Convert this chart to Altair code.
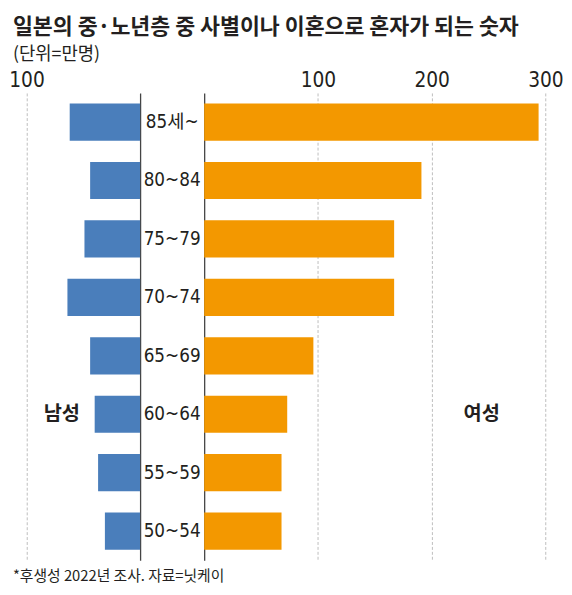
import altair as alt
import pandas as pd

# 단위: 만명
ages = ["85세~", "80~84", "75~79", "70~74", "65~69", "60~64", "55~59", "50~54"]
male = [62, 44, 49, 64, 44, 40, 37, 31]
female = [294, 191, 167, 167, 96, 73, 68, 68]

df = pd.DataFrame({"age": ages, "male": male, "female": female})

NUM_FONT = "Liberation Sans Narrow, DejaVu Sans Condensed, Noto Sans CJK KR, sans-serif"
KR_FONT = "Noto Sans CJK KR"
INK = "#231f20"
H = 474

band = alt.Scale(paddingInner=0.363, paddingOuter=0.18)


def x_axis(values):
    return alt.Axis(
        orient="top", values=values, title=None, ticks=False, domain=False,
        grid=True, gridDash=[3, 2], gridColor="#bdbdbd", gridWidth=1,
        labelFont=NUM_FONT, labelFontSize=21, labelColor=INK, labelPadding=3,
    )


def y_axis(orient):
    return alt.Axis(
        orient=orient, title=None, labels=False, ticks=False, grid=False,
        domain=True, domainColor="#444444", domainWidth=1.3,
        minExtent=0, maxExtent=0,
    )


left_bars = alt.Chart(df).mark_bar(color="#4a7ebb").encode(
    x=alt.X("male:Q", scale=alt.Scale(domain=[0, 112], reverse=True, nice=False), axis=x_axis([100])),
    y=alt.Y("age:N", sort=ages, scale=band, axis=y_axis("right")),
)

male_label = alt.Chart(pd.DataFrame({"t": ["남성"], "age": ["60~64"]})).mark_text(
    font=KR_FONT, fontSize=20, fontWeight="bold", color=INK
).encode(x=alt.datum(69), y=alt.Y("age:N", sort=ages), text="t:N")

footnote = alt.Chart(pd.DataFrame({"t": ["*후생성 2022년 조사. 자료=닛케이"]})).mark_text(
    font=KR_FONT, fontSize=15, color=INK, align="left", baseline="middle"
).encode(x=alt.value(0), y=alt.value(490), text="t:N")

left = alt.layer(left_bars, male_label, footnote).properties(width=129, height=H)

mid = alt.Chart(df).mark_text(font=NUM_FONT, fontSize=19, color=INK).encode(
    x=alt.value(32.5),
    y=alt.Y("age:N", sort=ages, scale=band, axis=None),
    text="age:N",
).properties(width=65, height=H)

right_bars = alt.Chart(df).mark_bar(color="#f39800").encode(
    x=alt.X("female:Q", scale=alt.Scale(domain=[0, 312], nice=False), axis=x_axis([100, 200, 300])),
    y=alt.Y("age:N", sort=ages, scale=band, axis=y_axis("left")),
)

female_label = alt.Chart(pd.DataFrame({"t": ["여성"], "age": ["60~64"]})).mark_text(
    font=KR_FONT, fontSize=20, fontWeight="bold", color=INK
).encode(x=alt.datum(244), y=alt.Y("age:N", sort=ages), text="t:N")

right = alt.layer(right_bars, female_label).properties(width=360, height=H)

chart = alt.hconcat(left, mid, right, spacing=0, bounds="flush").properties(
    title=alt.TitleParams(
        "일본의 중·노년층 중 사별이나 이혼으로 혼자가 되는 숫자",
        subtitle="(단위=만명)",
        anchor="start", frame="group",
        font=KR_FONT, fontSize=22, fontWeight="bold", color=INK,
        subtitleFont=KR_FONT, subtitleFontSize=18, subtitleColor=INK,
        subtitlePadding=8, offset=4,
    ),
    padding={"left": 0, "top": 4, "right": 0, "bottom": 0},
).configure_view(stroke=None)

chart.save("out.html", embed_options={"renderer": "svg", "actions": False})
